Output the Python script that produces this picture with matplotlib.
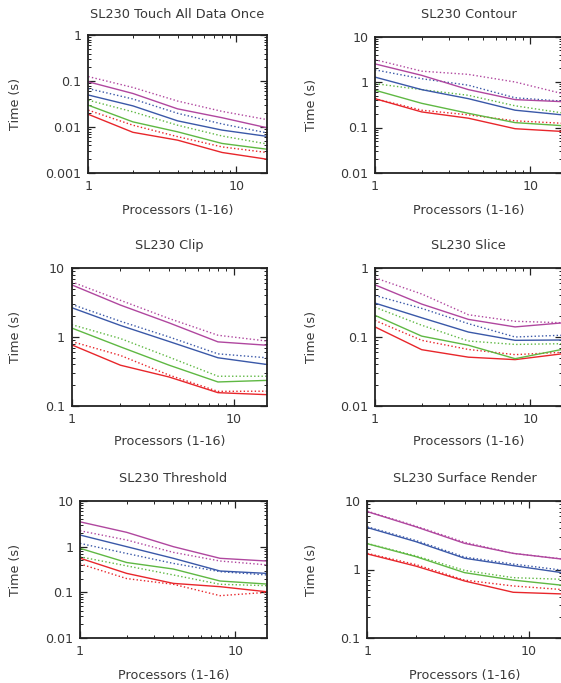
import matplotlib
matplotlib.use("Agg")
import matplotlib.pyplot as plt
from matplotlib.ticker import LogLocator, FuncFormatter, NullFormatter

# ---------------- data ----------------
processors = [1, 2, 4, 8, 16]
x_ticks = [1, 10]
x_tick_labels = ["1", "10"]

titles = ["SL230 Touch All Data Once", "SL230 Contour", "SL230 Clip",
          "SL230 Slice", "SL230 Threshold", "SL230 Surface Render"]
ylims = [(0.001, 1), (0.01, 10), (0.1, 10), (0.01, 1), (0.01, 10), (0.1, 10)]

# Touch All Data Once
touch_red = [0.019, 0.0077, 0.0052, 0.0028, 0.0020]
touch_red_dot = [0.0234, 0.011, 0.0062, 0.0037, 0.0028]
touch_green = [0.030, 0.013, 0.0079, 0.0044, 0.0033]
touch_green_dot = [0.0386, 0.0215, 0.011, 0.0064, 0.0043]
touch_blue = [0.050, 0.029, 0.0137, 0.0086, 0.0063]
touch_blue_dot = [0.069, 0.041, 0.020, 0.0117, 0.0075]
touch_magenta = [0.097, 0.054, 0.025, 0.016, 0.0097]
touch_magenta_dot = [0.126, 0.073, 0.037, 0.022, 0.0146]

# Contour
contour_red = [0.43, 0.22, 0.16, 0.094, 0.082]
contour_red_dot = [0.43, 0.24, 0.19, 0.14, 0.124]
contour_green = [0.66, 0.34, 0.205, 0.128, 0.11]
contour_green_dot = [0.92, 0.68, 0.51, 0.30, 0.21]
contour_blue = [1.28, 0.68, 0.43, 0.24, 0.19]
contour_blue_dot = [1.85, 1.18, 0.85, 0.45, 0.38]
contour_magenta = [2.5, 1.4, 0.68, 0.41, 0.37]
contour_magenta_dot = [3.1, 1.73, 1.47, 1.0, 0.56]

# Clip
clip_red = [0.77, 0.39, 0.263, 0.156, 0.146]
clip_red_dot = [0.86, 0.54, 0.28, 0.163, 0.164]
clip_green = [1.35, 0.72, 0.39, 0.223, 0.235]
clip_green_dot = [1.51, 0.95, 0.51, 0.27, 0.27]
clip_blue = [2.66, 1.47, 0.86, 0.50, 0.40]
clip_blue_dot = [2.97, 1.69, 1.0, 0.57, 0.50]
clip_magenta = [5.7, 2.9, 1.6, 0.85, 0.76]
clip_magenta_dot = [6.3, 3.4, 1.85, 1.06, 0.875]

# Slice
slice_red = [0.14, 0.0655, 0.051, 0.047, 0.057]
slice_red_dot = [0.174, 0.0895, 0.066, 0.0555, 0.060]
slice_green = [0.206, 0.103, 0.076, 0.0485, 0.066]
slice_green_dot = [0.27, 0.148, 0.0875, 0.078, 0.080]
slice_blue = [0.31, 0.19, 0.118, 0.0895, 0.0905]
slice_blue_dot = [0.40, 0.26, 0.156, 0.10, 0.106]
slice_magenta = [0.57, 0.30, 0.18, 0.14, 0.16]
slice_magenta_dot = [0.72, 0.42, 0.21, 0.169, 0.161]

# Threshold
thresh_red = [0.56, 0.26, 0.157, 0.133, 0.103]
thresh_red_dot = [0.42, 0.20, 0.15, 0.0845, 0.10]
thresh_green = [0.92, 0.45, 0.324, 0.177, 0.152]
thresh_green_dot = [0.60, 0.38, 0.24, 0.15, 0.14]
thresh_blue = [1.8, 1.0, 0.556, 0.293, 0.26]
thresh_blue_dot = [1.18, 0.71, 0.43, 0.284, 0.24]
thresh_magenta = [3.5, 2.06, 1.0, 0.556, 0.485]
thresh_magenta_dot = [2.23, 1.4, 0.75, 0.485, 0.40]

# Surface Render
surf_red = [1.69, 1.12, 0.68, 0.465, 0.44]
surf_red_dot = [1.72, 1.18, 0.70, 0.575, 0.51]
surf_green = [2.38, 1.54, 0.90, 0.70, 0.59]
surf_green_dot = [2.40, 1.58, 0.97, 0.76, 0.72]
surf_blue = [4.1, 2.55, 1.46, 1.14, 0.90]
surf_blue_dot = [4.2, 2.65, 1.52, 1.20, 0.98]
surf_magenta = [7.0, 4.2, 2.41, 1.72, 1.42]
surf_magenta_dot = [7.1, 4.3, 2.5, 1.72, 1.43]

panel_series = [
    [touch_red, touch_red_dot, touch_green, touch_green_dot,
     touch_blue, touch_blue_dot, touch_magenta, touch_magenta_dot],
    [contour_red, contour_red_dot, contour_green, contour_green_dot,
     contour_blue, contour_blue_dot, contour_magenta, contour_magenta_dot],
    [clip_red, clip_red_dot, clip_green, clip_green_dot,
     clip_blue, clip_blue_dot, clip_magenta, clip_magenta_dot],
    [slice_red, slice_red_dot, slice_green, slice_green_dot,
     slice_blue, slice_blue_dot, slice_magenta, slice_magenta_dot],
    [thresh_red, thresh_red_dot, thresh_green, thresh_green_dot,
     thresh_blue, thresh_blue_dot, thresh_magenta, thresh_magenta_dot],
    [surf_red, surf_red_dot, surf_green, surf_green_dot,
     surf_blue, surf_blue_dot, surf_magenta, surf_magenta_dot],
]

# ---------------- style ----------------
colors = ["#e8262b", "#e8262b", "#5fb843", "#5fb843",
          "#3a58a8", "#3a58a8", "#b0479f", "#b0479f"]
styles = ["-", ":", "-", ":", "-", ":", "-", ":"]
text_color = "#383838"

W, H = 561, 683
# axes boxes in pixels: left, top, right, bottom
boxes = [
    (88.3, 35.3, 266.7, 173.0),
    (375.0, 36.5, 561.8, 173.0),
    (71.7, 268.0, 266.7, 406.0),
    (375.0, 268.0, 561.8, 406.0),
    (80.0, 501.0, 266.7, 638.0),
    (367.3, 501.0, 561.8, 638.0),
]
ylabel_x = [15, 312, 15, 312, 15, 312]
title_y = [14, 14, 245.7, 245.7, 478, 478]
xlabel_y = [210.7, 210.7, 442, 442, 675, 675]

fig = plt.figure(figsize=(W / 100, H / 100), dpi=100)

for i in range(6):
    l, t, r, b = boxes[i]
    ax = fig.add_axes([l / W, 1 - b / H, (r - l) / W, (b - t) / H])
    for s, c, ls in zip(panel_series[i], colors, styles):
        ax.plot(processors, s, color=c, linestyle=ls, linewidth=1.0)
    ax.set_xscale("log")
    ax.set_yscale("log")
    ax.set_xlim(1, 16)
    ax.set_ylim(*ylims[i])
    ax.set_xticks(x_ticks)
    ax.set_xticklabels(x_tick_labels)
    ax.xaxis.set_minor_locator(LogLocator(base=10, subs=range(2, 10)))
    ax.xaxis.set_minor_formatter(NullFormatter())
    ax.yaxis.set_major_locator(LogLocator(base=10, numticks=10))
    ax.yaxis.set_minor_locator(LogLocator(base=10, subs=range(2, 10), numticks=10))
    ax.yaxis.set_major_formatter(FuncFormatter(lambda v, p: "%g" % v))
    ax.yaxis.set_minor_formatter(NullFormatter())
    ax.tick_params(which="both", direction="in", top=True, right=True,
                   colors="#222222", labelcolor=text_color, labelsize=9.1)
    ax.tick_params(which="major", length=5, width=0.9, pad=5)
    ax.tick_params(which="minor", length=2.5, width=0.7)
    for sp in ax.spines.values():
        sp.set_linewidth(1.3)
        sp.set_color("#222222")
    cx = (l + r) / 2
    fig.text(cx / W, 1 - title_y[i] / H, titles[i], ha="center", va="center",
             fontsize=9.25, color=text_color)
    fig.text(cx / W, 1 - xlabel_y[i] / H, "Processors (1-16)", ha="center",
             va="center", fontsize=9.2, color=text_color)
    fig.text(ylabel_x[i] / W, 1 - ((t + b) / 2) / H, "Time (s)", ha="center",
             va="center", rotation=90, fontsize=9.2, color=text_color)

fig.savefig("out.png", dpi=100)
